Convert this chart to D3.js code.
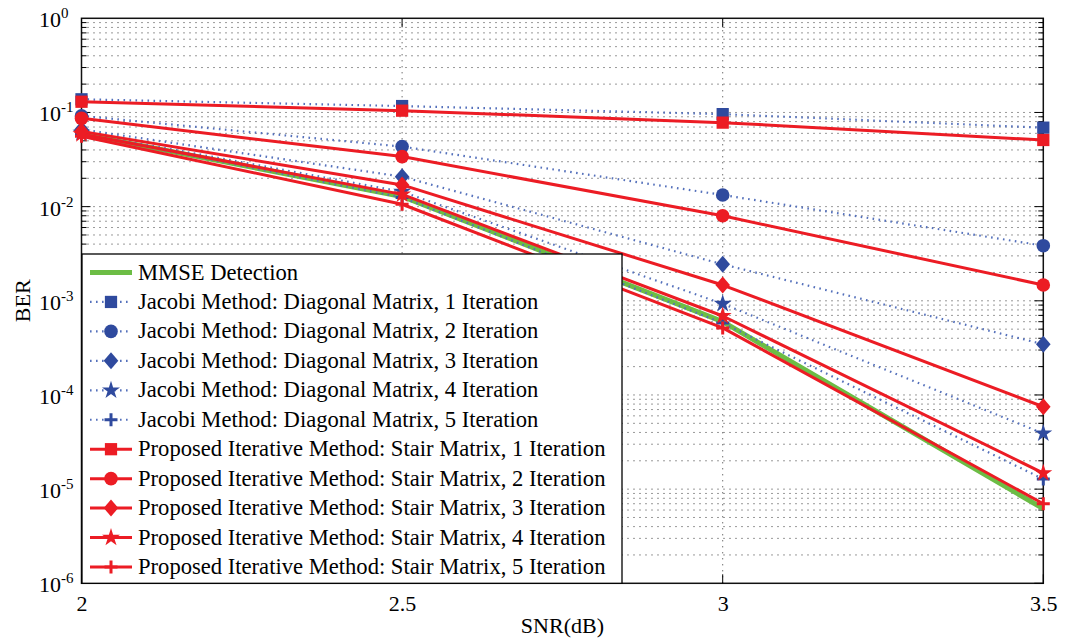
<!DOCTYPE html>
<html>
<head>
<meta charset="utf-8">
<script src="https://cdn.jsdelivr.net/npm/d3@7"></script>
<style>
  body { margin: 0; background: #fff; }
  svg { display: block; }
  text { font-family: "Liberation Serif", "Times New Roman", serif; fill: #000; }
</style>
</head>
<body>
<svg id="chart" width="1067" height="642"></svg>
<script>
// SNR points (dB)
const snr = [2, 2.5, 3, 3.5];

// BER curves
const mmse    = [0.059, 0.0128, 6.0e-4, 6.2e-6];
const jacobi1 = [0.138, 0.117, 0.096, 0.069];
const jacobi2 = [0.092, 0.0434, 0.0133, 0.00385];
const jacobi3 = [0.066, 0.0208, 0.00244, 3.46e-4];
const jacobi4 = [0.061, 0.0144, 9.3e-4, 3.9e-5];
const jacobi5 = [0.059, 0.0125, 5.8e-4, 1.28e-5];
const stair1  = [0.130, 0.1045, 0.078, 0.051];
const stair2  = [0.0866, 0.034, 0.0080, 0.00147];
const stair3  = [0.063, 0.017, 0.00147, 7.5e-5];
const stair4  = [0.059, 0.0135, 6.9e-4, 1.48e-5];
const stair5  = [0.056, 0.0106, 5.15e-4, 7.0e-6];

const seriesNames = [
  "MMSE Detection",
  "Jacobi Method: Diagonal Matrix, 1 Iteration",
  "Jacobi Method: Diagonal Matrix, 2 Iteration",
  "Jacobi Method: Diagonal Matrix, 3 Iteration",
  "Jacobi Method: Diagonal Matrix, 4 Iteration",
  "Jacobi Method: Diagonal Matrix, 5 Iteration",
  "Proposed Iterative Method: Stair Matrix, 1 Iteration",
  "Proposed Iterative Method: Stair Matrix, 2 Iteration",
  "Proposed Iterative Method: Stair Matrix, 3 Iteration",
  "Proposed Iterative Method: Stair Matrix, 4 Iteration",
  "Proposed Iterative Method: Stair Matrix, 5 Iteration"
];

const xTicks = [2, 2.5, 3, 3.5];
const xTickLabels = ["2", "2.5", "3", "3.5"];
const yExponents = [0, -1, -2, -3, -4, -5, -6];

const xLabel = "SNR(dB)";
const yLabel = "BER";

// ---- styles ----
const RED = "#ec1c24", BLUE = "#2f4a9e", BLUE_LINE = "#5470bb", GREEN = "#6cbd45";

const markerKinds = ["none", "square", "circle", "diamond", "star", "plus",
                     "square", "circle", "diamond", "star", "plus"];
const seriesValues = [mmse, jacobi1, jacobi2, jacobi3, jacobi4, jacobi5,
                      stair1, stair2, stair3, stair4, stair5];
const seriesFamily = ["mmse", "jacobi", "jacobi", "jacobi", "jacobi", "jacobi",
                      "stair", "stair", "stair", "stair", "stair"];

const series = seriesNames.map((name, i) => ({
  name, values: seriesValues[i], marker: markerKinds[i], family: seriesFamily[i]
}));

const svg = d3.select("#chart");
const L = 81.5, R = 1043.3, T = 18.3, B = 583.3;

const x = d3.scaleLinear().domain([2, 3.5]).range([L, R]);
const y = d3.scaleLog().domain([1e-6, 1]).range([B, T]);

// ---- grid ----
const grid = svg.append("g").attr("stroke", "#333").attr("stroke-width", 1)
  .attr("stroke-dasharray", "1,5").attr("fill", "none");
const minorVals = [];
for (let e = -6; e < 0; e++) for (let m = 1; m <= 9; m++) minorVals.push(m * Math.pow(10, e));
minorVals.forEach(v => {
  if (v <= 1e-6 * 1.0001) return;
  grid.append("line").attr("x1", L).attr("x2", R).attr("y1", y(v)).attr("y2", y(v));
});
xTicks.slice(1, -1).forEach(v => {
  grid.append("line").attr("x1", x(v)).attr("x2", x(v)).attr("y1", T).attr("y2", B);
});

// ---- axes box and ticks ----
const axisG = svg.append("g");
axisG.append("rect").attr("x", L).attr("y", T).attr("width", R - L).attr("height", B - T)
  .attr("fill", "none").attr("stroke", "#111").attr("stroke-width", 1.5);

const ticks = axisG.append("g").attr("stroke", "#000").attr("stroke-width", 1);
minorVals.forEach(v => {
  const major = Math.abs(Math.log10(v) - Math.round(Math.log10(v))) < 1e-9;
  const len = major ? 9 : 5;
  ticks.append("line").attr("x1", L).attr("x2", L + len).attr("y1", y(v)).attr("y2", y(v));
  ticks.append("line").attr("x1", R).attr("x2", R - len).attr("y1", y(v)).attr("y2", y(v));
});
xTicks.forEach(v => {
  ticks.append("line").attr("x1", x(v)).attr("x2", x(v)).attr("y1", B).attr("y2", B - 9);
  ticks.append("line").attr("x1", x(v)).attr("x2", x(v)).attr("y1", T).attr("y2", T + 9);
});

// x tick labels
const xAxis = d3.axisBottom(x).tickValues(xTicks)
  .tickFormat((d, i) => xTickLabels[i]).tickSize(0).tickPadding(0);
const xg = svg.append("g").attr("transform", `translate(0,${B})`).call(xAxis);
xg.select(".domain").remove();
xg.selectAll("text").attr("font-family", "Liberation Serif, serif").attr("font-size", 22)
  .attr("fill", "#000").attr("dy", null).attr("y", 28);

// y tick labels: 10 with exponent
yExponents.forEach(e => {
  const t = svg.append("text").attr("x", 39).attr("y", y(Math.pow(10, e)) + 9)
    .attr("font-size", 22);
  t.append("tspan").text("10");
  t.append("tspan").attr("dy", -9).attr("font-size", 15).text(String(e));
});

// axis titles
svg.append("text").attr("x", (L + R) / 2).attr("y", 633).attr("text-anchor", "middle")
  .attr("font-size", 22).text(xLabel);
svg.append("text").attr("transform", `translate(30,${(T + B) / 2}) rotate(-90)`)
  .attr("text-anchor", "middle").attr("font-size", 22).text(yLabel);

// ---- marker shapes ----
function markerPath(kind) {
  switch (kind) {
    case "square": return d3.symbol(d3.symbolSquare, 150)();
    case "circle": return d3.symbol(d3.symbolCircle, 145)();
    case "diamond": return "M0,-8.5L7.3,0L0,8.5L-7.3,0Z";
    case "star": return d3.symbol(d3.symbolStar, 100)();
    case "plus": return "M-6.5,0H6.5M0,-6.5V6.5";
  }
  return null;
}
function drawMarker(g, kind, color, cx, cy) {
  const p = markerPath(kind);
  if (!p) return;
  const el = g.append("path").attr("d", p).attr("transform", `translate(${cx},${cy})`);
  if (kind === "plus") el.attr("fill", "none").attr("stroke", color).attr("stroke-width", 3);
  else el.attr("fill", color).attr("stroke", "none");
}
function lineStyle(sel, family) {
  if (family === "mmse") sel.attr("stroke", GREEN).attr("stroke-width", 5);
  else if (family === "jacobi") sel.attr("stroke", BLUE_LINE).attr("stroke-width", 2.2)
    .attr("stroke-dasharray", "1.6,4.4");
  else sel.attr("stroke", RED).attr("stroke-width", 3);
  sel.attr("fill", "none").attr("stroke-linejoin", "round");
}
const famColor = f => f === "jacobi" ? BLUE : (f === "stair" ? RED : GREEN);

// ---- curves ----
const line = d3.line().x(d => x(d[0])).y(d => y(d[1]));
const plot = svg.append("g");
series.forEach(s => {
  const pts = snr.map((v, i) => [v, s.values[i]]);
  lineStyle(plot.append("path").attr("d", line(pts)), s.family);
  pts.forEach(p => drawMarker(plot, s.marker, famColor(s.family), x(p[0]), y(p[1])));
});

// ---- legend ----
const lg = svg.append("g");
const lgX = 82, lgY = 254, lgW = 540, lgH = B - 254;
lg.append("rect").attr("x", lgX).attr("y", lgY).attr("width", lgW).attr("height", lgH)
  .attr("fill", "#fff").attr("stroke", "#000").attr("stroke-width", 1.3);
const rowY = d3.scaleLinear().domain([0, series.length - 1]).range([272.5, 567]);
series.forEach((s, i) => {
  const cy = rowY(i);
  lineStyle(lg.append("line").attr("x1", 90).attr("x2", 132).attr("y1", cy).attr("y2", cy), s.family);
  drawMarker(lg, s.marker, famColor(s.family), 111, cy);
  lg.append("text").attr("x", 138).attr("y", cy + 7).attr("font-size", 22.6).text(s.name);
});
</script>
</body>
</html>
